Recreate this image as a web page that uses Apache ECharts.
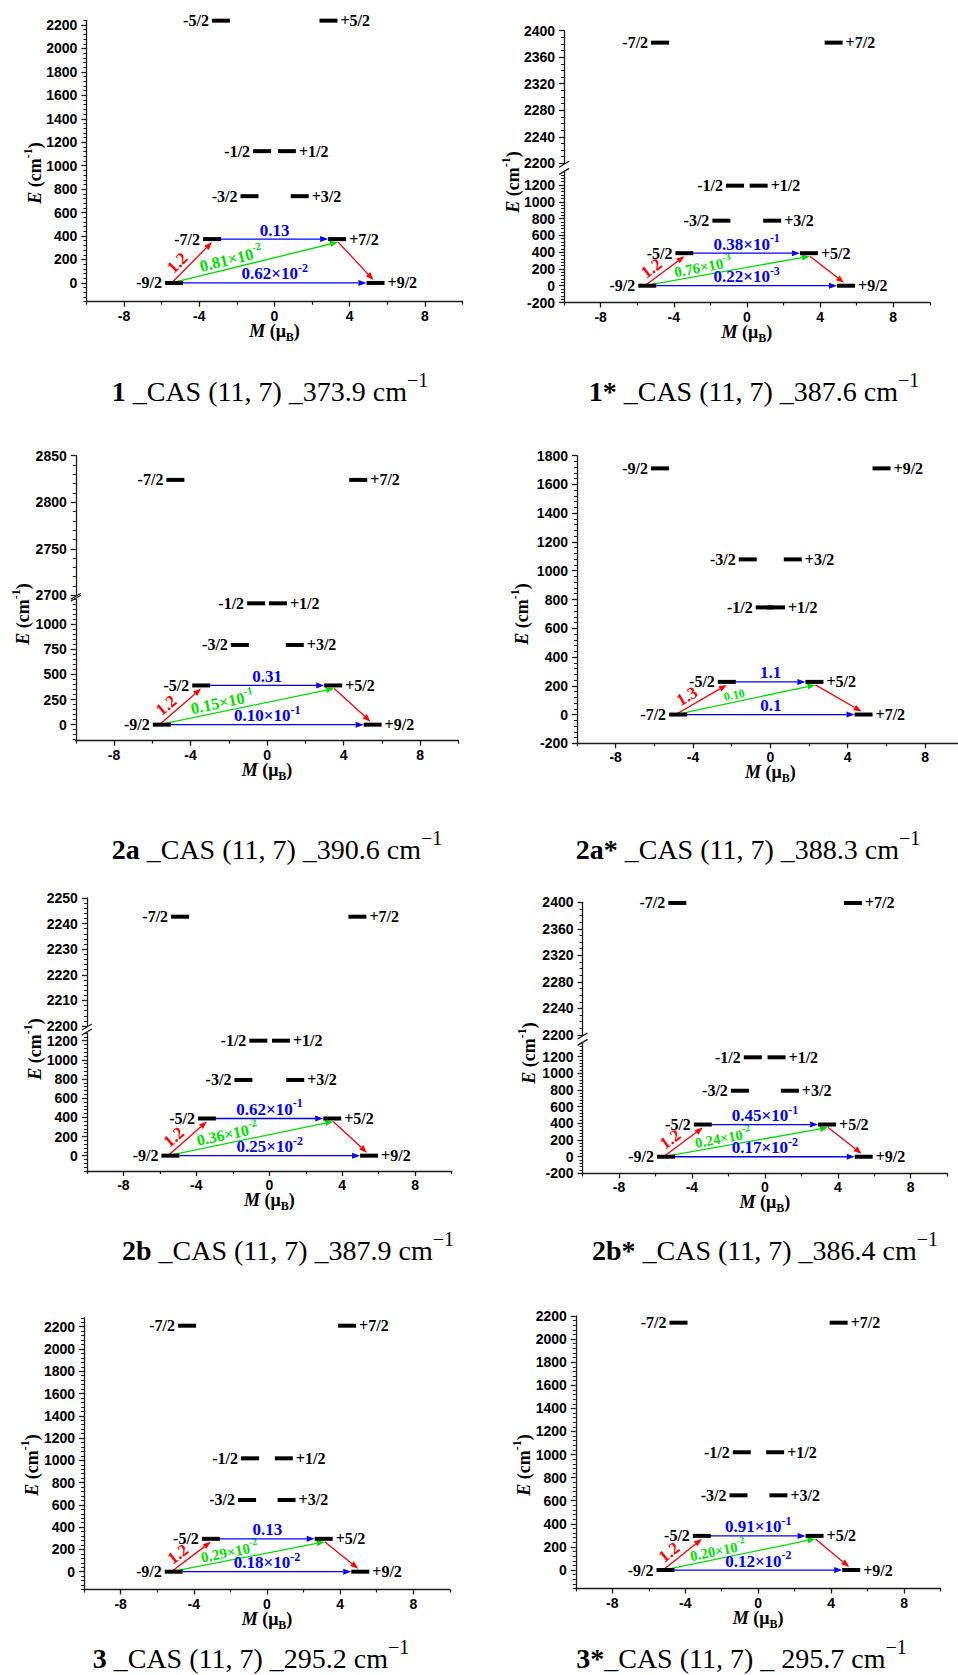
<!DOCTYPE html>
<html>
<head>
<meta charset="utf-8">
<title>Low-lying energy levels and relaxation pathways</title>
<script src="https://cdn.jsdelivr.net/npm/echarts@6/dist/echarts.min.js"></script>
<style>
  html, body { margin: 0; padding: 0; background: #ffffff; }
  #chart { width: 958px; height: 1675px; }
</style>
</head>
<body>
<div id="chart"></div>
<script>
// ---------------- data ----------------
const momentTicks = [-8, -4, 0, 4, 8];
const momentMinorTicks = [-10, -6, -2, 2, 6, 10];

// 1
const states1   = ['-9/2', '+9/2', '-7/2', '+7/2', '-3/2', '+3/2', '-1/2', '+1/2', '-5/2', '+5/2'];
const moments1  = [-5.34, 5.37, -3.32, 3.33, -1.33, 1.34, -0.66, 0.66, -2.85, 2.87];
const energies1 = [0, 0, 373.9, 373.9, 740, 740, 1124, 1124, 2237, 2237];
const path1     = ['-9/2', '-7/2', '+7/2', '+9/2'];
const rates1    = ['1.2', '0.81×10^-2', '0.13', '0.62×10^-2'];
const caption1  = ['1', ' _CAS (11, 7) _373.9 cm'];

// 1*
const states1s   = ['-9/2', '+9/2', '-5/2', '+5/2', '-3/2', '+3/2', '-1/2', '+1/2', '-7/2', '+7/2'];
const moments1s  = [-5.45, 5.42, -3.42, 3.39, -1.40, 1.38, -0.65, 0.64, -4.75, 4.74];
const energies1s = [0, 0, 387.6, 387.6, 775, 775, 1192, 1192, 2382, 2382];
const path1s     = ['-9/2', '-5/2', '+5/2', '+9/2'];
const rates1s    = ['1.2', '0.76×10^-3', '0.38×10^-1', '0.22×10^-3'];
const caption1s  = ['1*', ' _CAS (11, 7) _387.6 cm'];

// 2a
const states2a   = ['-9/2', '+9/2', '-5/2', '+5/2', '-3/2', '+3/2', '-1/2', '+1/2', '-7/2', '+7/2'];
const moments2a  = [-5.50, 5.52, -3.44, 3.46, -1.42, 1.45, -0.57, 0.57, -4.79, 4.77];
const energies2a = [0, 0, 390.6, 390.6, 794, 794, 1209, 1209, 2824, 2824];
const path2a     = ['-9/2', '-5/2', '+5/2', '+9/2'];
const rates2a    = ['1.2', '0.15×10^-1', '0.31', '0.10×10^-1'];
const caption2a  = ['2a', ' _CAS (11, 7) _390.6 cm'];

// 2a*
const states2as   = ['-7/2', '+7/2', '-5/2', '+5/2', '-1/2', '+1/2', '-3/2', '+3/2', '-9/2', '+9/2'];
const moments2as  = [-4.77, 4.82, -2.25, 2.28, -0.29, 0.29, -1.17, 1.16, -5.71, 5.75];
const energies2as = [0, 0, 227, 227, 745, 745, 1079, 1079, 1712, 1712];
const path2as     = ['-7/2', '-5/2', '+5/2', '+7/2'];
const rates2as    = ['1.3', '0.10', '1.1', '0.1'];
const caption2as  = ['2a*', ' _CAS (11, 7) _388.3 cm'];

// 2b
const states2b   = ['-9/2', '+9/2', '-5/2', '+5/2', '-3/2', '+3/2', '-1/2', '+1/2', '-7/2', '+7/2'];
const moments2b  = [-5.42, 5.47, -3.42, 3.45, -1.42, 1.42, -0.60, 0.64, -4.89, 4.83];
const energies2b = [0, 0, 387.9, 387.9, 790, 790, 1200, 1200, 2242.7, 2242.7];
const path2b     = ['-9/2', '-5/2', '+5/2', '+9/2'];
const rates2b    = ['1.2', '0.36×10^-2', '0.62×10^-1', '0.25×10^-2'];
const caption2b  = ['2b', ' _CAS (11, 7) _387.9 cm'];

// 2b*
const states2bs   = ['-9/2', '+9/2', '-5/2', '+5/2', '-3/2', '+3/2', '-1/2', '+1/2', '-7/2', '+7/2'];
const moments2bs  = [-5.42, 5.42, -3.40, 3.41, -1.37, 1.37, -0.66, 0.64, -4.80, 4.83];
const energies2bs = [0, 0, 386.4, 386.4, 792, 792, 1193, 1193, 2399, 2399];
const path2bs     = ['-9/2', '-5/2', '+5/2', '+9/2'];
const rates2bs    = ['1.2', '0.24×10^-2', '0.45×10^-1', '0.17×10^-2'];
const caption2bs  = ['2b*', ' _CAS (11, 7) _386.4 cm'];

// 3
const states3   = ['-9/2', '+9/2', '-5/2', '+5/2', '-3/2', '+3/2', '-1/2', '+1/2', '-7/2', '+7/2'];
const moments3  = [-5.10, 5.10, -3.07, 3.10, -1.09, 1.07, -0.93, 0.92, -4.37, 4.38];
const energies3 = [0, 0, 295.2, 295.2, 644, 644, 1018, 1018, 2209, 2209];
const path3     = ['-9/2', '-5/2', '+5/2', '+9/2'];
const rates3    = ['1.2', '0.29×10^-2', '0.13', '0.18×10^-2'];
const caption3  = ['3', ' _CAS (11, 7) _295.2 cm'];

// 3*
const states3s   = ['-9/2', '+9/2', '-5/2', '+5/2', '-3/2', '+3/2', '-1/2', '+1/2', '-7/2', '+7/2'];
const moments3s  = [-5.08, 5.10, -3.09, 3.09, -1.08, 1.11, -0.90, 0.93, -4.37, 4.41];
const energies3s = [0, 0, 295.7, 295.7, 647, 647, 1020, 1020, 2142, 2142];
const path3s     = ['-9/2', '-5/2', '+5/2', '+9/2'];
const rates3s    = ['1.2', '0.20×10^-2', '0.91×10^-1', '0.12×10^-2'];
const caption3s  = ['3*', '_CAS (11, 7) _ 295.7 cm'];

// ---------------- look ----------------
const RED = '#ff0000', GREEN = '#00e000', BLUE = '#0000ff', INK = '#000000', AXIS = '#1a1a1a';
const SERIF = '"Liberation Serif", "Times New Roman", serif';
const SANS = '"Liberation Sans", Arial, sans-serif';

// Transitions along the path [ground-, excited-, excited+, ground+]
// off: pixel nudges of start/end points so heads sit against the level bars.
const ARROWS = [
  { from: 0, to: 1, off: [-2.5, 0, 0, 3],  kind: 'red',   rate: 0 },
  { from: 0, to: 2, off: [-2.5, 0, 1, 3],  kind: 'green', rate: 1 },
  { from: 2, to: 3, off: [1, 3, -2, -3],   kind: 'red',   rate: -1 },
  { from: 1, to: 2, off: [9, 0, -9, 0],    kind: 'blue',  rate: 2 },
  { from: 0, to: 3, off: [9, 0, -9, 0],    kind: 'blue',  rate: 3 }
];
const KIND_COLOR = { red: RED, green: GREEN, blue: BLUE };
const LABEL_PLACE = {
  red:   { t: 0.32, gap: 10, size: 17 },
  green: { t: 0.37, gap: 9,  size: 15 },
  blue:  { t: 0.50, gap: 9,  size: 17 }
};

// panel frames (pixel boxes) and y-axis segments; segs[0] carries the M axis
const panels = [
  { states: states1, moments: moments1, energies: energies1, path: path1, rates: rates1, caption: caption1,
    left: 86.4, right: 462.6,
    segs: [{ min: -160, max: 2240, top: 20.3, bottom: 301.7, from: 0, to: 2200, step: 200, minor: 40 }],
    yTitle: [35, 173], captionAt: [270, 391], place: { green: { size: 16.5 } } },
  { states: states1s, moments: moments1s, energies: energies1s, path: path1s, rates: rates1s, caption: caption1s,
    left: 564.1, right: 929.8,
    segs: [{ min: -200, max: 1350, top: 172.4, bottom: 302.5, from: -200, to: 1200, step: 200, minor: 40 },
           { min: 2200, max: 2400, top: 30.7, bottom: 163.3, from: 2200, to: 2400, step: 40, minor: 10 }],
    yTitle: [513, 182], captionAt: [754, 391], place: { green: { size: 15, t: 0.36, gap: 8 } } },
  { states: states2a, moments: moments2a, energies: energies2a, path: path2a, rates: rates2a, caption: caption2a,
    left: 75.75, right: 458.3,
    segs: [{ min: -160, max: 1250, top: 599.2, bottom: 740.7, from: 0, to: 1000, step: 250, minor: 50 },
           { min: 2700, max: 2850, top: 455.7, bottom: 595.3, from: 2700, to: 2850, step: 50, minor: 10 }],
    yTitle: [23, 614], captionAt: [277, 849], place: { green: { size: 16.5 } } },
  { states: states2as, moments: moments2as, energies: energies2as, path: path2as, rates: rates2as, caption: caption2as,
    left: 577, right: 963.7,
    segs: [{ min: -200, max: 1800, top: 455.7, bottom: 743.3, from: -200, to: 1800, step: 200, minor: 40 }],
    yTitle: [522, 614], captionAt: [748, 849], place: { green: { size: 12, t: 0.43, gap: 7 } } },
  { states: states2b, moments: moments2b, energies: energies2b, path: path2b, rates: rates2b, caption: caption2b,
    left: 86.9, right: 451.7,
    segs: [{ min: -160, max: 1280, top: 1033, bottom: 1171, from: 0, to: 1200, step: 200, minor: 40 },
           { min: 2200, max: 2250, top: 898, bottom: 1026, from: 2200, to: 2250, step: 10, minor: 2 }],
    yTitle: [35, 1049], captionAt: [288, 1250], place: { green: { size: 16 } } },
  { states: states2bs, moments: moments2bs, energies: energies2bs, path: path2bs, rates: rates2bs, caption: caption2bs,
    left: 582.5, right: 947.2,
    segs: [{ min: -200, max: 1360, top: 1043.4, bottom: 1173.4, from: -200, to: 1200, step: 200, minor: 40 },
           { min: 2200, max: 2400, top: 902.3, bottom: 1035, from: 2200, to: 2400, step: 40, minor: 10 }],
    yTitle: [529, 1053], captionAt: [765, 1250], place: { green: { size: 14.5, gap: 8 } } },
  { states: states3, moments: moments3, energies: energies3, path: path3, rates: rates3, caption: caption3,
    left: 84.1, right: 449.9,
    segs: [{ min: -160, max: 2280, top: 1317.8, bottom: 1589.5, from: 0, to: 2200, step: 200, minor: 40 }],
    yTitle: [32, 1465], captionAt: [251, 1658], place: { green: { size: 15, t: 0.39, gap: 8 } } },
  { states: states3s, moments: moments3s, energies: energies3s, path: path3s, rates: rates3s, caption: caption3s,
    left: 575.8, right: 940.6,
    segs: [{ min: -160, max: 2200, top: 1316, bottom: 1588.5, from: 0, to: 2200, step: 200, minor: 40 }],
    yTitle: [524, 1465], captionAt: [741.5, 1658], place: { green: { size: 14.5, gap: 8 } } }
];

// ---------------- helpers ----------------
function steps(from, to, step) {
  const out = [];
  for (let v = from; v <= to + 1e-9; v += step) out.push(Math.round(v * 1000) / 1000);
  return out;
}
function minorValues(seg) {
  const majors = new Set(steps(seg.from, seg.to, seg.step));
  const start = Math.ceil(seg.min / seg.minor) * seg.minor;
  return steps(start, seg.max, seg.minor).filter(v => !majors.has(v));
}
const tickFont = { fontFamily: SANS, fontWeight: 'bold', fontSize: 14, color: INK, formatter: v => String(v) };
const axisLine = { show: true, onZero: false, lineStyle: { color: AXIS, width: 1.3 } };

function rateStyle(str, size, color) {
  const parts = str.split('^');
  const es = Math.round(size * 0.68);
  return {
    text: parts[1] ? `{m|${parts[0]}}{e|${parts[1]}}` : `{m|${parts[0]}}`,
    align: 'center', verticalAlign: 'middle', fill: color,
    font: `bold ${size}px ${SERIF}`,
    rich: {
      m: { font: `bold ${size}px ${SERIF}`, fill: color, lineHeight: size + 7 },
      e: { font: `bold ${es}px ${SERIF}`, fill: color, lineHeight: es, verticalAlign: 'top' }
    }
  };
}

function arrowRenderer(specs) {
  return function (params, api) {
    const s = specs[params.dataIndex];
    const a = api.coord([api.value(0), api.value(1)]);
    const b = api.coord([api.value(2), api.value(3)]);
    const x1 = a[0] + s.off[0], y1 = a[1] + s.off[1];
    const x2 = b[0] + s.off[2], y2 = b[1] + s.off[3];
    const dx = x2 - x1, dy = y2 - y1, len = Math.hypot(dx, dy);
    const ux = dx / len, uy = dy / len;
    const HL = 8, HW = 3;
    const bx = x2 - ux * HL, by = y2 - uy * HL;
    const color = KIND_COLOR[s.kind];
    const children = [
      { type: 'line', shape: { x1: x1, y1: y1, x2: bx, y2: by }, style: { stroke: color, lineWidth: 1.3 } },
      { type: 'polygon', shape: { points: [[x2, y2], [bx - uy * HW, by + ux * HW], [bx + uy * HW, by - ux * HW]] },
        style: { fill: color } }
    ];
    if (s.text) {
      const nx = uy, ny = -ux;
      const cx = x1 + dx * s.place.t + nx * s.place.gap;
      const cy = y1 + dy * s.place.t + ny * s.place.gap;
      children.push({ type: 'text', x: cx, y: cy, rotation: Math.atan2(-dy, dx),
        style: rateStyle(s.text, s.place.size, color) });
    }
    return { type: 'group', children: children };
  };
}

// ---------------- build ----------------
const grids = [], xAxes = [], yAxes = [], series = [], graphics = [];

panels.forEach(p => {
  const width = p.right - p.left;
  p.segs.forEach((seg, k) => {
    const gi = grids.length;
    grids.push({ left: p.left, top: seg.top, width: width, height: seg.bottom - seg.top,
      containLabel: false, outerBoundsMode: 'none' });

    seg.xi = xAxes.length;
    if (k === 0) {
      xAxes.push({ type: 'value', gridIndex: gi, min: -10, max: 10, position: 'bottom',
        axisLine: axisLine,
        axisTick: { show: true, inside: false, length: 5, customValues: momentTicks, lineStyle: { color: AXIS, width: 1.3 } },
        axisLabel: Object.assign({ show: true, margin: 7, customValues: momentTicks }, tickFont),
        splitLine: { show: false } });
      xAxes.push({ type: 'value', gridIndex: gi, min: -10, max: 10, position: 'bottom',
        axisLine: { show: false, onZero: false },
        axisTick: { show: true, inside: false, length: 3, customValues: momentMinorTicks, lineStyle: { color: AXIS, width: 1.2 } },
        axisLabel: { show: false }, splitLine: { show: false } });
    } else {
      xAxes.push({ type: 'value', gridIndex: gi, min: -10, max: 10, show: false,
        axisLine: { show: false, onZero: false }, splitLine: { show: false } });
    }

    const majors = steps(seg.from, seg.to, seg.step);
    seg.yi = yAxes.length;
    yAxes.push({ type: 'value', gridIndex: gi, min: seg.min, max: seg.max, position: 'left',
      axisLine: axisLine,
      axisTick: { show: true, inside: false, length: 5, customValues: majors, lineStyle: { color: AXIS, width: 1.3 } },
      axisLabel: Object.assign({ show: true, margin: 9, customValues: majors }, tickFont),
      splitLine: { show: false } });
    yAxes.push({ type: 'value', gridIndex: gi, min: seg.min, max: seg.max, position: 'left',
      axisLine: { show: false, onZero: false },
      axisTick: { show: true, inside: false, length: 3, customValues: minorValues(seg), lineStyle: { color: AXIS, width: 1 } },
      axisLabel: { show: false }, splitLine: { show: false } });

    const items = [];
    p.states.forEach((s, i) => {
      const e = p.energies[i];
      if (e >= seg.min && e <= seg.max) {
        items.push({ name: s, value: [p.moments[i], e],
          label: { position: s.charAt(0) === '-' ? 'left' : 'right' } });
      }
    });
    series.push({ type: 'scatter', xAxisIndex: seg.xi, yAxisIndex: seg.yi, z: 4, silent: true,
      symbol: 'rect', symbolSize: [18, 4], itemStyle: { color: INK, opacity: 1 },
      label: { show: true, distance: 3, formatter: '{b}', fontFamily: SERIF, fontWeight: 'bold', fontSize: 16, color: INK },
      data: items });
  });

  // transitions between the four lowest states
  const base = p.segs[0];
  const pts = p.path.map(s => { const i = p.states.indexOf(s); return [p.moments[i], p.energies[i]]; });
  const specs = ARROWS.map(a => Object.assign({}, a, {
    text: a.rate >= 0 ? p.rates[a.rate] : null,
    place: Object.assign({}, LABEL_PLACE[a.kind], (p.place && p.place[a.kind]) || {})
  }));
  series.push({ type: 'custom', xAxisIndex: base.xi, yAxisIndex: base.yi, z: 3, silent: true, clip: false,
    renderItem: arrowRenderer(specs),
    data: ARROWS.map(a => [pts[a.from][0], pts[a.from][1], pts[a.to][0], pts[a.to][1]]) });

  // axis titles
  graphics.push({ type: 'text', x: p.yTitle[0], y: p.yTitle[1], rotation: Math.PI / 2, silent: true,
    style: { text: '{i|E}{b| (cm}{s|-1}{b|)}', align: 'center', verticalAlign: 'middle', fill: INK,
      font: `bold 18px ${SERIF}`,
      rich: { i: { font: `italic bold 18px ${SERIF}`, fill: INK, lineHeight: 26 },
              b: { font: `bold 18px ${SERIF}`, fill: INK, lineHeight: 26 },
              s: { font: `bold 12px ${SERIF}`, fill: INK, lineHeight: 12, verticalAlign: 'top' } } } });
  graphics.push({ type: 'text', x: (p.left + p.right) / 2, y: base.bottom + 29, silent: true,
    style: { text: '{i|M}{b| (μ}{u|B}{b|)}', align: 'center', verticalAlign: 'middle', fill: INK,
      font: `bold 18px ${SERIF}`,
      rich: { i: { font: `italic bold 18px ${SERIF}`, fill: INK, lineHeight: 24 },
              b: { font: `bold 18px ${SERIF}`, fill: INK, lineHeight: 24 },
              u: { font: `bold 12px ${SERIF}`, fill: INK, lineHeight: 12, verticalAlign: 'bottom' } } } });

  // panel caption
  graphics.push({ type: 'text', x: p.captionAt[0], y: p.captionAt[1], silent: true,
    style: { text: `{b|${p.caption[0]}}{r|${p.caption[1]}}{s|−1}`, align: 'center', verticalAlign: 'middle',
      fill: INK, font: `28px ${SERIF}`,
      rich: { b: { font: `bold 28px ${SERIF}`, fill: INK, lineHeight: 42 },
              r: { font: `28px ${SERIF}`, fill: INK, lineHeight: 42 },
              s: { font: `20px ${SERIF}`, fill: INK, lineHeight: 20, verticalAlign: 'top' } } } });

  // break marks on a split energy axis
  if (p.segs.length > 1) {
    const yl = p.segs[0].top, yu = p.segs[1].bottom, x = p.left;
    [yu + 1, yl - 1].forEach(y => graphics.push({ type: 'line', silent: true,
      shape: { x1: x - 5, y1: y + 3, x2: x + 5, y2: y - 3 }, style: { stroke: AXIS, lineWidth: 1.3 } }));
  }
});

const chart = echarts.init(document.getElementById('chart'), null, { renderer: 'svg', width: 958, height: 1675 });
chart.setOption({
  backgroundColor: '#ffffff',
  animation: false,
  textStyle: { fontFamily: SERIF },
  grid: grids,
  xAxis: xAxes,
  yAxis: yAxes,
  series: series,
  graphic: { elements: graphics }
});
</script>
</body>
</html>
